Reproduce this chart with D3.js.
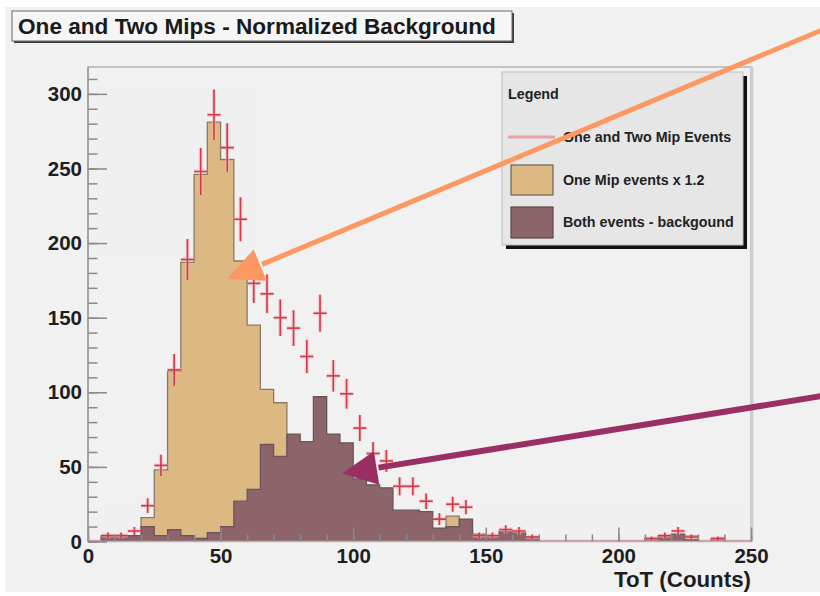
<!DOCTYPE html>
<html>
<head>
<meta charset="utf-8">
<script src="https://cdn.jsdelivr.net/npm/d3@7"></script>
<style>
  body { margin: 0; background: #ffffff; }
  text { font-family: "Liberation Sans", Arial, sans-serif; font-weight: bold; }
</style>
</head>
<body>
<svg id="chart" width="820" height="596"></svg>
<script>
// bins are 5 counts wide, from 0 to 250
var binWidth = 5;
var binStarts = d3.range(0, 250, binWidth);

// One and Two Mip events (red crosses), one value per bin
var bothMips = [0, 4, 4, 7, 24, 51, 115, 189, 248, 286,
                264, 216, 173, 166, 150, 143, 124, 153, 111, 99,
                76, 59, 54, 37, 37, 27, 15, 25, 23, 4,
                4, 8, 7, 3, 0, 0, 0, 0, 0, 0,
                0, 0, 2, 4, 7, 3, 0, 2, 0, 0];
// One Mip events x 1.2 (tan histogram)
var oneMip = [0, 3, 3, 4, 16, 48, 114, 187, 246, 281,
              256, 188, 145, 102, 93, 50, 40, 35, 30, 25,
              20, 15, 12, 10, 8, 6, 5, 17, 8, 3,
              2, 3, 3, 1, 0, 0, 0, 0, 0, 0,
              0, 0, 1, 3, 4, 4, 0, 1, 0, 0];
// Both events - background (maroon histogram)
var background = [0, 4, 4, 4, 10, 4, 8, 4, 2, 6,
                  10, 27, 35, 65, 57, 72, 67, 97, 72, 66,
                  42, 38, 36, 21, 21, 20, 9, 10, 15, 5,
                  4, 7, 6, 3, 0, 0, 0, 0, 0, 0,
                  0, 0, 2, 4, 5, 1, 0, 2, 0, 0];

var legendLabels = ["One and Two Mip Events", "One Mip events x 1.2", "Both events - backgound"];
var xTicks = [0, 50, 100, 150, 200, 250];
var yTicks = [0, 50, 100, 150, 200, 250, 300];

var svg = d3.select("#chart");
var frame = {left: 88, right: 751, top: 67, bottom: 541.5};

var x = d3.scaleLinear().domain([0, 250]).range([frame.left, frame.right]);
var y = d3.scaleLinear().domain([0, 318]).range([frame.bottom, frame.top]);

// pad background
svg.append("rect").attr("x", 5).attr("y", 7).attr("width", 815).attr("height", 585)
    .attr("fill", "#f1f1f1");

svg.append("clipPath").attr("id", "frameClip").append("rect")
    .attr("x", frame.left).attr("y", frame.top)
    .attr("width", frame.right - frame.left).attr("height", frame.bottom - frame.top);

// step outline of a histogram, starting and ending on the baseline
var histPath = function(values){
    var p = d3.path();
    p.moveTo(x(0), y(0));
    for (var i = 0; i < values.length; i++){
        p.lineTo(x(binStarts[i]), y(values[i]));
        p.lineTo(x(binStarts[i] + binWidth), y(values[i]));
    }
    p.lineTo(x(250), y(0));
    return p.toString();
}

var plot = svg.append("g").attr("clip-path", "url(#frameClip)");

plot.append("path").attr("d", histPath(oneMip))
    .attr("fill", "#dcb882").attr("stroke", "#8a7a62").attr("stroke-width", 1.3);
plot.append("path").attr("d", histPath(background))
    .attr("fill", "#8c656a").attr("stroke", "#6a5656").attr("stroke-width", 1.3);

// data crosses: bin width horizontally, sqrt(N) error vertically
var crosses = plot.append("g");
[{c: "#f4b4bc", w: 4, o: 0.6}, {c: "#d23a48", w: 1.6, o: 1}].forEach(function(s){
    var g = crosses.append("g").attr("stroke", s.c).attr("stroke-width", s.w).attr("opacity", s.o);
    for (var i = 0; i < bothMips.length; i++){
        var v = bothMips[i];
        var err = Math.sqrt(v);
        g.append("line").attr("x1", x(binStarts[i])).attr("x2", x(binStarts[i] + binWidth))
            .attr("y1", y(v)).attr("y2", y(v));
        if (v > 0){
            var cx = x(binStarts[i] + binWidth / 2);
            g.append("line").attr("x1", cx).attr("x2", cx)
                .attr("y1", y(v - err)).attr("y2", y(v + err));
        }
    }
});

// frame
svg.append("rect").attr("x", frame.left).attr("y", frame.top)
    .attr("width", frame.right - frame.left).attr("height", frame.bottom - frame.top)
    .attr("fill", "none").attr("stroke", "#b4b4b4").attr("stroke-width", 1.5);
svg.append("line").attr("x1", frame.right + 1).attr("x2", frame.right + 1)
    .attr("y1", frame.top).attr("y2", frame.bottom)
    .attr("stroke", "#cfcfcf").attr("stroke-width", 3);

// y axis, ticks point into the frame
svg.append("g").attr("transform", "translate(" + frame.left + ",0)")
    .call(d3.axisLeft(y).tickValues(yTicks).tickSize(-19).tickPadding(6));
svg.append("g").attr("transform", "translate(" + frame.left + ",0)")
    .call(d3.axisLeft(y).tickValues(d3.range(0, 318, 10)).tickSize(-9.5).tickFormat(""));

// x axis
svg.append("g").attr("transform", "translate(0," + frame.bottom + ")")
    .call(d3.axisBottom(x).tickValues(xTicks).tickSize(-14).tickPadding(7));
svg.append("g").attr("transform", "translate(0," + frame.bottom + ")")
    .call(d3.axisBottom(x).tickValues(d3.range(0, 251, 10)).tickSize(-7).tickFormat(""));

svg.selectAll(".domain").remove();
svg.selectAll(".tick line").attr("stroke", "#8a8a8a").attr("stroke-width", 1.5);
svg.selectAll(".tick text").attr("fill", "#1e1e1e").style("font-size", "20.5px")
    .style("font-family", "'Liberation Sans', Arial, sans-serif").style("font-weight", "bold");
svg.append("line").attr("x1", frame.left).attr("x2", frame.left)
    .attr("y1", frame.top).attr("y2", frame.bottom).attr("stroke", "#9a9a9a").attr("stroke-width", 1.5);

svg.append("text").attr("x", frame.right).attr("y", 587).attr("text-anchor", "end")
    .style("font-size", "22.3px").attr("fill", "#1e1e1e").text("ToT (Counts)");

// title box with shadow
svg.append("rect").attr("x", 14).attr("y", 13).attr("width", 500).attr("height", 30).attr("fill", "#3a3a3a");
svg.append("rect").attr("x", 12).attr("y", 11).attr("width", 500).attr("height", 30)
    .attr("fill", "#f6f6f6").attr("stroke", "#6a6a6a").attr("stroke-width", 1);
svg.append("text").attr("x", 18).attr("y", 34).style("font-size", "22.6px").attr("fill", "#1a1a1a")
    .text("One and Two Mips - Normalized Background");

// legend
var legend = svg.append("g");
legend.append("rect").attr("x", 506).attr("y", 76).attr("width", 241).attr("height", 173).attr("fill", "#111");
legend.append("rect").attr("x", 502).attr("y", 72).attr("width", 241).attr("height", 173)
    .attr("fill", "#e6e6e6").attr("stroke", "#bdbdbd").attr("stroke-width", 1);
legend.append("text").attr("x", 508).attr("y", 99).style("font-size", "14.3px").attr("fill", "#222").text("Legend");
var rowY = [137, 180, 222];
legend.append("line").attr("x1", 508).attr("x2", 555).attr("y1", rowY[0]).attr("y2", rowY[0])
    .attr("stroke", "#e6a0a8").attr("stroke-width", 3);
legend.append("rect").attr("x", 511).attr("y", rowY[1] - 15).attr("width", 42).attr("height", 30)
    .attr("fill", "#dcb882").attr("stroke", "#6f6150").attr("stroke-width", 1.2);
legend.append("rect").attr("x", 511).attr("y", rowY[2] - 15).attr("width", 42).attr("height", 31)
    .attr("fill", "#8c656a").attr("stroke", "#5a4646").attr("stroke-width", 1.2);
legend.selectAll("text.entry").data(legendLabels).enter().append("text").attr("class", "entry")
    .attr("x", 563).attr("y", function(d, i){ return rowY[i] + 5; })
    .style("font-size", "14.3px").attr("fill", "#222").text(function(d){ return d; });

// annotation arrows drawn over the chart
var drawArrow = function(sx, sy, tx, ty, color, width, headLen, headHalf){
    var dx = sx - tx, dy = sy - ty;
    var len = Math.sqrt(dx * dx + dy * dy);
    var ux = dx / len, uy = dy / len;
    var bx = tx + ux * headLen, by = ty + uy * headLen;
    svg.append("line").attr("x1", sx).attr("y1", sy).attr("x2", bx + ux * 2).attr("y2", by + uy * 2)
        .attr("stroke", color).attr("stroke-width", width);
    var pts = [[tx, ty], [bx - uy * headHalf, by + ux * headHalf], [bx + uy * headHalf, by - ux * headHalf]];
    svg.append("polygon").attr("points", pts.map(function(p){ return p.join(","); }).join(" "))
        .attr("fill", color);
}
drawArrow(822, 30, 227, 279, "#fd9862", 5, 36, 17);
drawArrow(822, 396, 342, 473.5, "#9a2f64", 6, 35, 17);
</script>
</body>
</html>
